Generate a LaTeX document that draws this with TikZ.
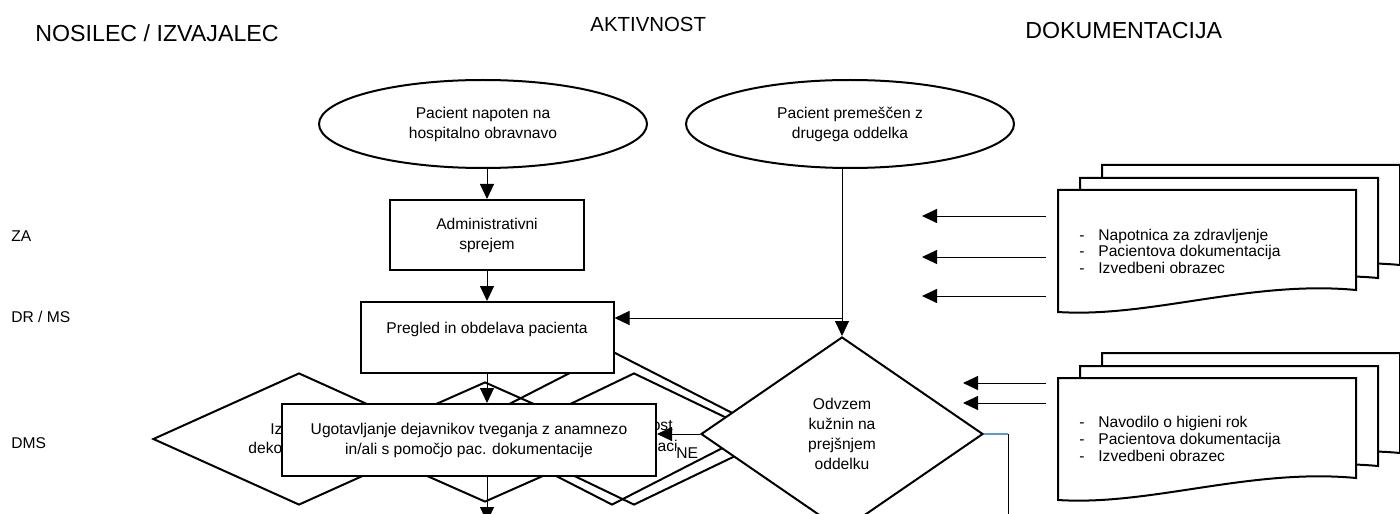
\documentclass[tikz,border=0pt]{standalone}
\usepackage{fontspec}
\setmainfont{Liberation Sans}
\usetikzlibrary{shapes.geometric, arrows.meta, positioning}
\definecolor{linkblue}{RGB}{91,155,213}

% stack of three document pages, #1 = vertical offset
\newcommand{\docstack}[1]{%
  \foreach \dx/\dy in {44/-25,22/-12,0/0} {
    \draw[page, shift={(\dx,\dy+#1)}] (1058,190) -- (1356,190) -- (1356,290)
      .. controls (1250,280) and (1150,318) .. (1058,312) -- cycle;
  }%
}

\begin{document}
\begin{tikzpicture}[x=0.5pt, y=-0.5pt,
  txt/.style={font=\fontsize{7.8}{10}\selectfont, inner sep=0pt},
  head/.style={font=\fontsize{11.6}{14}\selectfont, inner sep=0pt, anchor=base west},
  lbl/.style={txt, anchor=base west},
  box/.style={txt, draw, line width=1pt, fill=white, align=center},
  term/.style={box, ellipse, minimum width=164pt, minimum height=44pt},
  dia/.style={diamond, draw, line width=1pt, inner sep=0pt},
  doctext/.style={font=\fontsize{7.8}{8.5}\selectfont, inner sep=0pt, anchor=base west},
  arr/.style={line width=0.5pt, -{Triangle[length=7.5pt, width=7pt]}},
  page/.style={draw, line width=1pt, fill=white}]
\useasboundingbox (0,0) rectangle (1400,513);
\clip (0,0) rectangle (1400,513);

% column heads
\node[head] (nosilec) at (35,42) {NOSILEC / IZVAJALEC};
\node[head, font=\fontsize{10.2}{12}\selectfont] (aktivnost) at (590,32) {AKTIVNOST};
\node[head] (dokum) at (1025,39) {DOKUMENTACIJA};

% performers
\node[lbl] (za) at (11,242) {ZA};
\node[lbl] (drms) at (11,322) {DR / MS};
\node[lbl] (dms) at (11,448) {DMS};

% overlapping decisions
\node[dia, minimum width=146pt, minimum height=66pt] (izv) at (299,439) {};
\node[dia, minimum width=135pt, minimum height=60pt] (ocena) at (485,442) {};
\node[dia, minimum width=150pt, minimum height=77pt] (potr) at (612,428) {};
\node[dia, minimum width=137pt, minimum height=66pt] (dok) at (634,439) {};
\node[lbl] (izvA) at (270,434) {Iz};
\node[lbl] (izvB) at (248,453) {deko};
\node[txt, anchor=base east] (dokA) at (673,430) {ost};
\node[txt, anchor=base east] (dokB) at (678,451) {aci};

% main flow
\node[term] (start) at (483,124) {Pacient napoten na\\hospitalno obravnavo};
\node[term] (premesc) at (850,124) {Pacient premeščen z\\drugega oddelka};
\node[box, minimum width=97pt, minimum height=35pt] (admin) at (487,235) {Administrativni\\sprejem};
\node[box, minimum width=126.5pt, text height=15.5pt, text depth=20pt, anchor=north] (pregled) at (487,301) {Pregled in obdelava pacienta};
\node[box, minimum width=187pt, minimum height=36pt] (ugot) at (469,440) {Ugotavljanje dejavnikov tveganja z anamnezo\\in/ali s pomočjo pac. dokumentacije};
\node[box, diamond, minimum width=141pt, minimum height=97pt] (odvzem) at (842,434) {Odvzem\\kužnin na\\prejšnjem\\oddelku};

\draw[arr] (start.south -| admin.north) -- (admin.north);
\draw[arr] (admin.south) -- (pregled.north);
\draw[arr] (pregled.south) -- (pregled.south |- ugot.north);
\coordinate (exit) at (487,522);
\draw[arr] (pregled.south |- ugot.south) -- (exit);
\draw[arr] (premesc.south -| odvzem.north) -- (odvzem.north);
\coordinate (join) at (842,318);
\draw[arr] (join) -- (join -| pregled.east);
\draw[arr] (odvzem.west) -- (odvzem.west -| ugot.east);
\node[txt, fill=white, anchor=west] (ne) at (676,453) {NE};

\coordinate (turn) at (1008,434);
\coordinate (down) at (1008,522);
\draw[line width=0.6pt, linkblue] (odvzem.east) -- (turn);
\draw[line width=0.5pt] (turn) -- (down);

% documents
\docstack{0}
\docstack{188}
\node[doctext] (doc1) at (1079,240) {\begin{tabular}[t]{@{}l@{\hspace{6.9pt}}l@{}}
  - & Napotnica za zdravljenje\\ - & Pacientova dokumentacija\\ - & Izvedbeni obrazec\end{tabular}};
\node[doctext] (doc2) at (1079,427) {\begin{tabular}[t]{@{}l@{\hspace{6.9pt}}l@{}}
  - & Navodilo o higieni rok\\ - & Pacientova dokumentacija\\ - & Izvedbeni obrazec\end{tabular}};
\foreach \y/\tip [count=\i] in {216/922, 257/922, 296/922, 383/963, 403/963} {
  \coordinate (src\i) at (1046,\y);
  \coordinate (dst\i) at (\tip,\y);
  \draw[arr] (src\i) -- (dst\i);
}
\end{tikzpicture}
\end{document}
